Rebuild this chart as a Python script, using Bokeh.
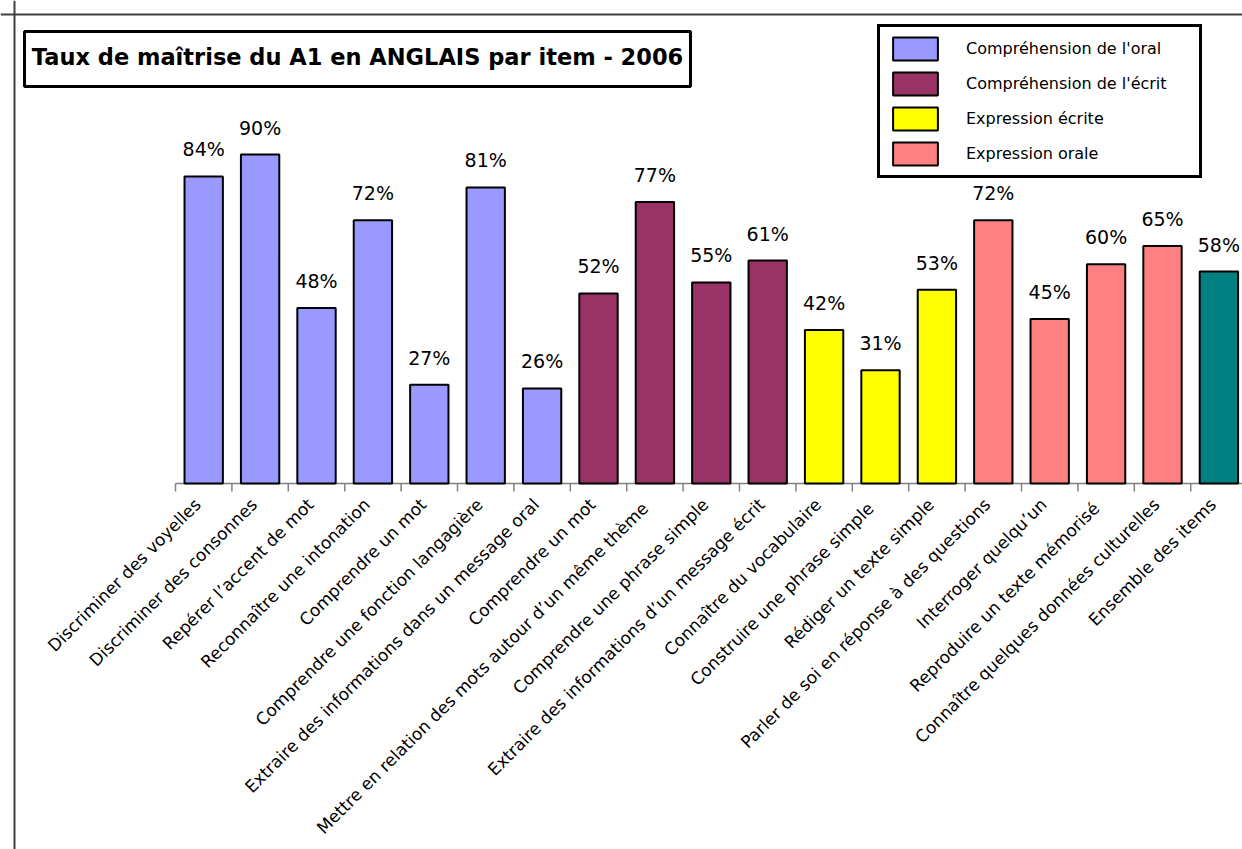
import math
from bokeh.plotting import figure
from bokeh.models import Range1d, Span, Label, Legend, LegendItem, ColumnDataSource, BoxAnnotation
from bokeh.core.properties import value
from bokeh.embed import file_html
from bokeh.resources import INLINE

# ---------------- data ----------------
items = [
    "Discriminer des voyelles",
    "Discriminer des consonnes",
    "Repérer l’accent de mot",
    "Reconnaître une intonation",
    "Comprendre un mot",
    "Comprendre une fonction langagière",
    "Extraire des informations dans un message oral",
    "Comprendre un mot",
    "Mettre en relation  des mots autour d’un même thème",
    "Comprendre une phrase simple",
    "Extraire des informations d’un message écrit",
    "Connaître du vocabulaire",
    "Construire une phrase  simple",
    "Rédiger un texte simple",
    "Parler de soi en réponse à des questions",
    "Interroger quelqu’un",
    "Reproduire un  texte mémorisé",
    "Connaître quelques données culturelles",
    "Ensemble des items",
]
scores = [84, 90, 48, 72, 27, 81, 26, 52, 77, 55, 61, 42, 31, 53, 72, 45, 60, 65, 58]
groups = [0, 0, 0, 0, 0, 0, 0, 1, 1, 1, 1, 2, 2, 2, 3, 3, 3, 3, 4]
group_names = ["Compréhension de l'oral", "Compréhension de l'écrit",
               "Expression écrite", "Expression orale"]
group_colors = ["#9999FF", "#993366", "#FFFF00", "#FF8080", "#008080"]
title_text = "Taux de maîtrise du A1 en ANGLAIS par item - 2006"

# ---------------- layout (canvas pixels) ----------------
W, H = 1242, 849
X0 = 175.0      # left edge of first category
CW = 56.4       # category width
Y0 = 483.0      # baseline
K = 3.655       # pixels per percent
FONT = "DejaVu Sans"

def dx(px):
    return (px - X0) / CW

def dy(py):
    return (Y0 - py) / K

n = len(items)
p = figure(width=W, height=H, x_range=Range1d(dx(0), dx(W)), y_range=Range1d(dy(H), dy(0)),
           output_backend="svg", toolbar_location=None,
           x_axis_location=None, y_axis_location=None, min_border=0)
p.min_border_left = p.min_border_right = p.min_border_top = p.min_border_bottom = 0
p.outline_line_color = None
p.background_fill_color = "white"
p.border_fill_color = "white"
for g in p.grid:
    g.visible = False

src = ColumnDataSource(dict(
    x=[i + 0.5 for i in range(n)],
    top=scores,
    color=[group_colors[g] for g in groups],
    lab=[f"{v}%" for v in scores],
))

# outer frame lines (top / left)
p.add_layout(Span(location=dx(14), dimension="height", line_color="#404040", line_width=2))
p.add_layout(Span(location=dy(14), dimension="width", line_color="#404040", line_width=2))

# category axis line and ticks
p.segment(x0=0, y0=0, x1=n, y1=0, line_color="#808080", line_width=1.5)
p.segment(x0=list(range(n + 1)), y0=[0] * (n + 1), x1=list(range(n + 1)),
          y1=[dy(Y0 + 8)] * (n + 1), line_color="#808080", line_width=1.5)

bars = p.vbar(x="x", top="top", bottom=0, width=0.68, fill_color="color",
              line_color="black", line_width=2, source=src)

# value labels
p.text(x="x", y="top", text="lab", source=src, text_align="center",
       text_baseline="alphabetic", y_offset=-27, text_font=value(FONT),
       text_font_size="19px", text_color="black")

# category labels (rotated)
p.text(x=[i + 0.5 for i in range(n)], y=[dy(Y0 + 18)] * n, text=items,
       angle=math.pi / 4, text_align="right", text_baseline="middle",
       x_offset=-6, text_font=value(FONT), text_font_size="17px", text_color="black")

# title box
p.add_layout(BoxAnnotation(left=dx(24), right=dx(690), top=dy(31), bottom=dy(86),
                           fill_color="white", fill_alpha=1, line_color="black",
                           line_alpha=1, line_width=3, level="overlay"))
p.add_layout(Label(x=dx(357), y=dy(56), text=title_text, text_align="center",
                   text_baseline="middle", text_font=FONT, text_font_style="bold",
                   text_font_size="22.5px", text_color="black", level="overlay"))

# legend
first_idx = [groups.index(g) for g in range(4)]
legend = Legend(items=[LegendItem(label=group_names[g], renderers=[bars], index=first_idx[g])
                       for g in range(4)],
                location=(877, H - 178), glyph_width=56, glyph_height=29, label_standoff=23,
                label_width=226, spacing=6, padding=7,
                border_line_color="black", border_line_width=3, border_line_alpha=1,
                background_fill_color="white", background_fill_alpha=1,
                label_text_font=FONT, label_text_font_size="16px",
                label_text_color="black")
p.add_layout(legend)

open("out.html", "w").write(file_html(p, INLINE))
